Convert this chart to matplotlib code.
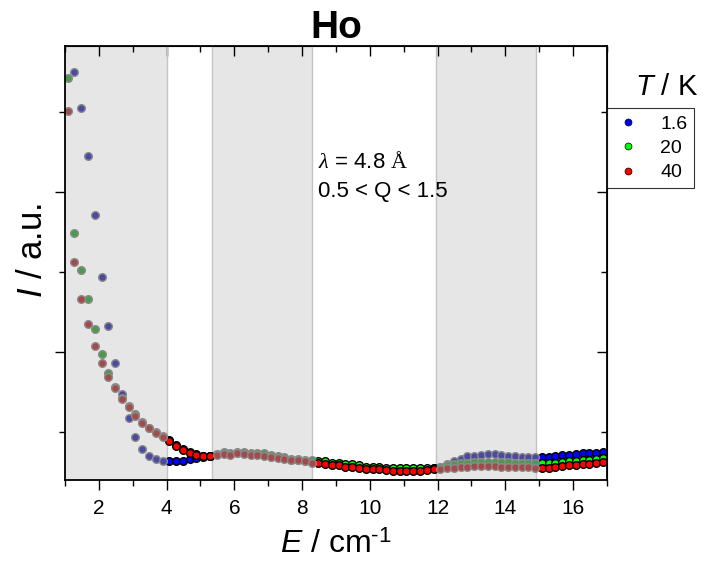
import matplotlib
matplotlib.use("Agg")
import numpy as np
import matplotlib.pyplot as plt
from matplotlib.ticker import FixedLocator, NullFormatter
from matplotlib.lines import Line2D

plt.rcParams['font.family'] = ['Liberation Sans', 'DejaVu Sans']
plt.rcParams['mathtext.fontset'] = 'custom'
plt.rcParams['mathtext.rm'] = 'Liberation Serif'
plt.rcParams['mathtext.it'] = 'Liberation Serif:italic'
plt.rcParams['mathtext.cal'] = 'Liberation Sans:italic'
plt.rcParams['mathtext.sf'] = 'Liberation Sans'

# energy transfer grid (cm-1)
energy = [1.08, 1.28, 1.48, 1.68, 1.88, 2.08, 2.28, 2.48, 2.68, 2.88,
          3.08, 3.28, 3.48, 3.68, 3.88, 4.08, 4.28, 4.48, 4.68, 4.88,
          5.08, 5.28, 5.48, 5.68, 5.88, 6.08, 6.28, 6.48, 6.68, 6.88,
          7.08, 7.28, 7.48, 7.68, 7.88, 8.08, 8.28, 8.48, 8.68, 8.88,
          9.08, 9.28, 9.48, 9.68, 9.88, 10.08, 10.28, 10.48, 10.68, 10.88,
          11.08, 11.28, 11.48, 11.68, 11.88, 12.08, 12.28, 12.48, 12.68, 12.88,
          13.08, 13.28, 13.48, 13.68, 13.88, 14.08, 14.28, 14.48, 14.68, 14.88,
          15.08, 15.28, 15.48, 15.68, 15.88, 16.08, 16.28, 16.48, 16.68, 16.88]

# intensity (a.u.) for each temperature
i_1p6 = [3.05, 2.752, 2.523, 2.227, 1.858, 1.471, 1.163, 0.929, 0.738, 0.586,
         0.471, 0.394, 0.350, 0.329, 0.319, 0.319, 0.321, 0.321, 0.329, 0.336,
         0.346, 0.350, 0.361, 0.367, 0.363, 0.371, 0.367, 0.363, 0.361, 0.356,
         0.346, 0.342, 0.336, 0.325, 0.325, 0.321, 0.316, 0.313, 0.308, 0.300,
         0.298, 0.294, 0.292, 0.283, 0.277, 0.273, 0.273, 0.269, 0.267, 0.267,
         0.267, 0.267, 0.267, 0.269, 0.273, 0.284, 0.303, 0.319, 0.334, 0.347,
         0.353, 0.359, 0.361, 0.361, 0.359, 0.353, 0.350, 0.344, 0.342, 0.342,
         0.342, 0.344, 0.348, 0.354, 0.359, 0.363, 0.366, 0.367, 0.370, 0.375]
i_20 = [2.714, 1.746, 1.511, 1.329, 1.142, 0.988, 0.867, 0.781, 0.713, 0.663,
        0.613, 0.563, 0.528, 0.497, 0.472, 0.447, 0.419, 0.394, 0.375, 0.363,
        0.353, 0.353, 0.363, 0.372, 0.369, 0.378, 0.375, 0.369, 0.369, 0.366,
        0.356, 0.350, 0.341, 0.331, 0.331, 0.325, 0.322, 0.319, 0.316, 0.306,
        0.306, 0.300, 0.300, 0.291, 0.284, 0.281, 0.281, 0.275, 0.275, 0.275,
        0.275, 0.275, 0.275, 0.275, 0.278, 0.284, 0.294, 0.300, 0.304, 0.309,
        0.315, 0.315, 0.315, 0.315, 0.313, 0.311, 0.309, 0.306, 0.304, 0.304,
        0.304, 0.304, 0.309, 0.313, 0.316, 0.319, 0.325, 0.328, 0.331, 0.336]
i_40 = [2.508, 1.563, 1.329, 1.175, 1.036, 0.929, 0.846, 0.775, 0.706, 0.658,
        0.602, 0.554, 0.523, 0.492, 0.467, 0.444, 0.414, 0.389, 0.371, 0.358,
        0.352, 0.350, 0.356, 0.363, 0.359, 0.366, 0.363, 0.359, 0.356, 0.353,
        0.344, 0.338, 0.331, 0.322, 0.322, 0.316, 0.309, 0.306, 0.300, 0.294,
        0.291, 0.284, 0.281, 0.275, 0.269, 0.266, 0.266, 0.263, 0.259, 0.259,
        0.259, 0.259, 0.259, 0.263, 0.266, 0.269, 0.275, 0.278, 0.281, 0.283,
        0.286, 0.288, 0.288, 0.286, 0.283, 0.283, 0.281, 0.279, 0.279, 0.278,
        0.277, 0.278, 0.281, 0.286, 0.291, 0.294, 0.298, 0.303, 0.306, 0.311]

temps = ['1.6', '20', '40']
colors = ['#0000ff', '#00ff00', '#ff0000']
muted = ['#4a4aa4', '#4a9c4a', '#a44a4a']   # same points seen through the grey windows
bands = [(0.9, 4.0), (5.33, 8.28), (11.96, 14.9)]

fig = plt.figure(figsize=(7.11, 5.63), dpi=100)
ax = fig.add_axes([0.0914, 0.1474, 0.7623, 0.7709])

x = np.array(energy)
inside = np.zeros(len(x), dtype=bool)
for lo, hi in bands:
    inside |= (x >= lo) & (x <= hi)
    ax.axvspan(lo, hi, facecolor='#e6e6e6', lw=0, zorder=0)
    for b in (lo, hi):
        ax.axvline(b, color='#c4c4c4', lw=1.0, zorder=0.5)

for y, c, m in zip([i_1p6, i_20, i_40], colors, muted):
    y = np.array(y)
    ax.plot(x[~inside], y[~inside], 'o', ls='none', color=c, mec='k', mew=1.0,
            ms=5.5, zorder=2)
    ax.plot(x[inside], y[inside], 'o', ls='none', color=m, mec='#8a8a8a', mew=1.0,
            ms=5.5, zorder=2)

ax.set_xlim(1, 17)
ax.set_ylim(0.2, 2.9125)

ax.xaxis.set_major_locator(FixedLocator([2, 4, 6, 8, 10, 12, 14, 16]))
ax.xaxis.set_minor_locator(FixedLocator([1, 3, 5, 7, 9, 11, 13, 15, 17]))
ax.yaxis.set_major_locator(FixedLocator([1, 2]))
ax.yaxis.set_minor_locator(FixedLocator([0.5, 1.5, 2.5]))
ax.yaxis.set_major_formatter(NullFormatter())
ax.tick_params(which='both', direction='out', width=1.0, labelsize=15, pad=7)
ax.tick_params(which='major', length=7)
ax.tick_params(which='minor', length=4)
for s in ax.spines.values():
    s.set_linewidth(1.3)

top = ax.secondary_xaxis('top')
top.xaxis.set_major_locator(FixedLocator([2, 4, 6, 8, 10, 12, 14, 16]))
top.xaxis.set_minor_locator(FixedLocator([1, 3, 5, 7, 9, 11, 13, 15, 17]))
top.tick_params(which='both', direction='in', width=1.0, labeltop=False)
top.tick_params(which='major', length=7)
top.tick_params(which='minor', length=4)

right = ax.secondary_yaxis('right')
right.yaxis.set_major_locator(FixedLocator([1, 2]))
right.yaxis.set_minor_locator(FixedLocator([0.5, 1.5, 2.5]))
right.tick_params(which='both', direction='in', width=1.0, labelright=False)
right.tick_params(which='major', length=7)
right.tick_params(which='minor', length=4)

ax.set_title('Ho', fontsize=28, fontweight='bold', pad=5)
ax.set_xlabel('$\\mathcal{E}$ / cm$^{\\mathsf{\u2010}\\mathsf{1}}$', fontsize=23, labelpad=8)
ax.set_ylabel(r'$\mathcal{I}$ / a.u.', fontsize=25)
ax.yaxis.set_label_coords(-0.03, 0.53)

ax.text(0.467, 0.719, r'$\lambda$ = 4.8 $\mathrm{Å}$', transform=ax.transAxes,
        fontsize=16, va='baseline')
ax.text(0.467, 0.652, '0.5 < Q < 1.5', transform=ax.transAxes,
        fontsize=16, va='baseline')

handles = [Line2D([], [], marker='o', ls='none', color=c, mec='k', mew=0.5, ms=5)
           for c in colors]
leg = fig.legend(handles, temps, loc='upper left', bbox_to_anchor=(0.8537, 0.808),
                 borderaxespad=0, fontsize=14, frameon=True, fancybox=False,
                 edgecolor='k', handlelength=1.5, handletextpad=0.9,
                 labelspacing=0.35, borderpad=0.35)
leg.get_frame().set_linewidth(0.8)
fig.text(0.938, 0.845, r'$\mathcal{T}$ / K', ha='center', va='center', fontsize=21)

fig.savefig('out.png', dpi=100)
